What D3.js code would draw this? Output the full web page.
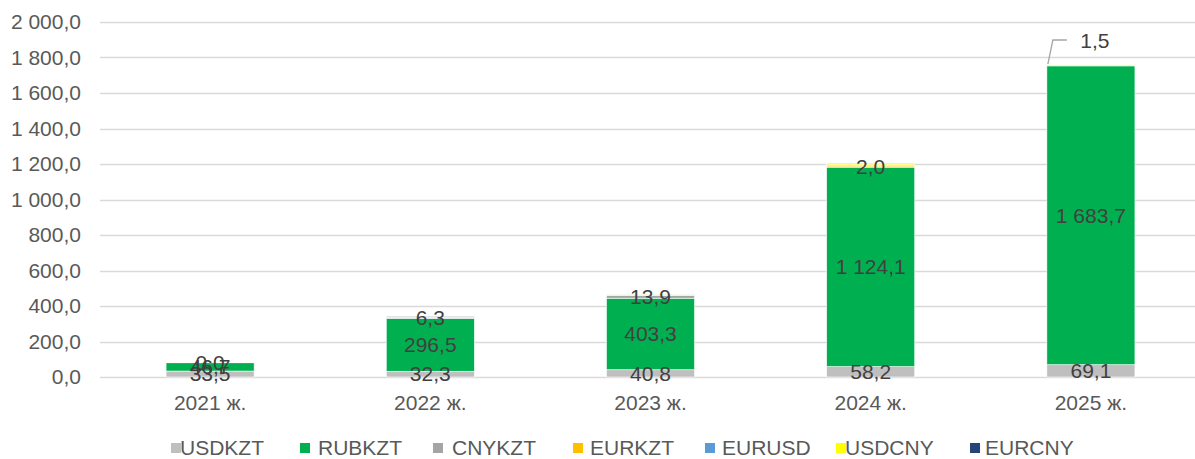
<!DOCTYPE html>
<html>
<head>
<meta charset="utf-8">
<script src="https://cdn.jsdelivr.net/npm/d3@7"></script>
<style>
  html, body { margin: 0; padding: 0; background: #fff; }
  text { font-family: "Liberation Sans", Arial, sans-serif; }
</style>
</head>
<body>
<div id="chart"></div>
<script>
(function () {
  const years = ["2021 ж.", "2022 ж.", "2023 ж.", "2024 ж.", "2025 ж."];
  const seriesNames = ["USDKZT", "RUBKZT", "CNYKZT", "EURKZT", "EURUSD", "USDCNY", "EURCNY"];
  const seriesColors = ["#BFBFBF", "#00B050", "#A5A5A5", "#FFC000", "#5B9BD5", "#FFFF00", "#264478"];

  const usdkzt = [33.5, 32.3, 40.8, 58.2, 69.1];
  const rubkzt = [46.7, 296.5, 403.3, 1124.1, 1683.7];
  const cnykzt = [0.0, 6.3, 13.9, 2.0, 1.5];
  const eurkzt = [1.5, 2.0, 2.5, 8.0, 3.0];
  const eurusd = [0.5, 6.0, 5.0, 3.0, 2.0];
  const usdcny = [0.5, 0.5, 1.0, 10.0, 4.0];
  const eurcny = [0.0, 0.0, 0.0, 0.0, 0.0];

  const labelledSeries = ["USDKZT", "RUBKZT", "CNYKZT"];
  const yTicks = [0, 200, 400, 600, 800, 1000, 1200, 1400, 1600, 1800, 2000];

  const width = 1195;
  const height = 459;

  const table = years.map((year, i) => ({
    year,
    USDKZT: usdkzt[i],
    RUBKZT: rubkzt[i],
    CNYKZT: cnykzt[i],
    EURKZT: eurkzt[i],
    EURUSD: eurusd[i],
    USDCNY: usdcny[i],
    EURCNY: eurcny[i],
  }));

  const svg = d3.select("#chart").append("svg")
    .attr("width", width)
    .attr("height", height)
    .style("display", "block");

  svg.append("rect").attr("width", width).attr("height", height).attr("fill", "#fff");

  const xScale = d3.scaleBand().domain(years).range([100, 1201]).paddingInner(0.6).paddingOuter(0.3);
  const yScale = d3.scaleLinear().domain([0, 2000]).range([377, 22]);
  const color = d3.scaleOrdinal().domain(seriesNames).range(seriesColors);

  // gridlines
  svg.append("g")
    .selectAll("line")
    .data(yTicks)
    .join("line")
    .attr("x1", 100)
    .attr("x2", 1201)
    .attr("y1", d => Math.round(yScale(d)) + 0.5)
    .attr("y2", d => Math.round(yScale(d)) + 0.5)
    .attr("stroke", "#D9D9D9")
    .attr("stroke-width", 1.3);

  // y axis labels
  const fmt = d => d3.format(",.1f")(d).replace(/,/g, " ").replace(".", ",");
  svg.append("g")
    .selectAll("text")
    .data(yTicks)
    .join("text")
    .attr("x", 81)
    .attr("y", d => yScale(d))
    .attr("dy", "0.35em")
    .attr("text-anchor", "end")
    .attr("font-size", "21px")
    .attr("fill", "#595959")
    .text(fmt);

  const stacked = d3.stack().keys(seriesNames)(table);

  const layers = svg.append("g")
    .selectAll("g")
    .data(stacked)
    .join("g")
    .attr("fill", d => color(d.key));

  layers.selectAll("rect")
    .data(d => d)
    .join("rect")
    .attr("x", d => xScale(d.data.year))
    .attr("width", xScale.bandwidth())
    .attr("y", d => yScale(d[1]))
    .attr("height", d => Math.max(0, yScale(d[0]) - yScale(d[1])))
    .attr("stroke", "#fff")
    .attr("stroke-width", 0.6);

  // data labels
  const labelData = stacked
    .filter(s => labelledSeries.includes(s.key))
    .flatMap(s => s.map((d, i) => ({ key: s.key, i, y0: d[0], y1: d[1], year: d.data.year, value: d.data[s.key] })));

  const labels = svg.append("g");
  labelData.forEach(d => {
    const cx = xScale(d.year) + xScale.bandwidth() / 2;
    const cy = (yScale(d.y0) + yScale(d.y1)) / 2;
    if (d.key === "CNYKZT" && d.i === years.length - 1) {
      // last label sits above the bar with a leader line
      const x0 = xScale(d.year);
      const top = yScale(stacked[stacked.length - 1][d.i][1]);
      labels.append("path")
        .attr("d", `M${x0 + 1},${top} L${x0 + 6},${top - 24} L${x0 + 20},${top - 24}`)
        .attr("fill", "none")
        .attr("stroke", "#A6A6A6")
        .attr("stroke-width", 1.3);
      labels.append("text")
        .attr("x", x0 + 48)
        .attr("y", top - 23)
        .attr("dy", "0.35em")
        .attr("text-anchor", "middle")
        .attr("font-size", "21px")
        .attr("fill", "#404040")
        .text(fmt(d.value));
      return;
    }
    labels.append("text")
      .attr("x", cx)
      .attr("y", cy)
      .attr("dy", "0.35em")
      .attr("text-anchor", "middle")
      .attr("font-size", "21px")
      .attr("fill", "#404040")
      .text(fmt(d.value));
  });

  // x axis labels
  svg.append("g")
    .selectAll("text")
    .data(years)
    .join("text")
    .attr("x", d => xScale(d) + xScale.bandwidth() / 2)
    .attr("y", 403)
    .attr("dy", "0.35em")
    .attr("text-anchor", "middle")
    .attr("font-size", "21px")
    .attr("fill", "#595959")
    .text(d => d);

  // legend
  const legendX = [171, 300, 433, 573, 705, 836, 970];
  const legendTextX = [180, 318, 452, 590, 722, 845, 985];

  const items = svg.append("g")
    .selectAll("g")
    .data(seriesNames)
    .join("g");

  items.append("rect")
    .attr("x", (d, i) => legendX[i])
    .attr("y", 443)
    .attr("width", 10)
    .attr("height", 10)
    .attr("fill", d => color(d));

  items.append("text")
    .attr("x", (d, i) => legendTextX[i])
    .attr("y", 448)
    .attr("dy", "0.35em")
    .attr("font-size", "21px")
    .attr("fill", "#595959")
    .text(d => d);
})();
</script>
</body>
</html>
